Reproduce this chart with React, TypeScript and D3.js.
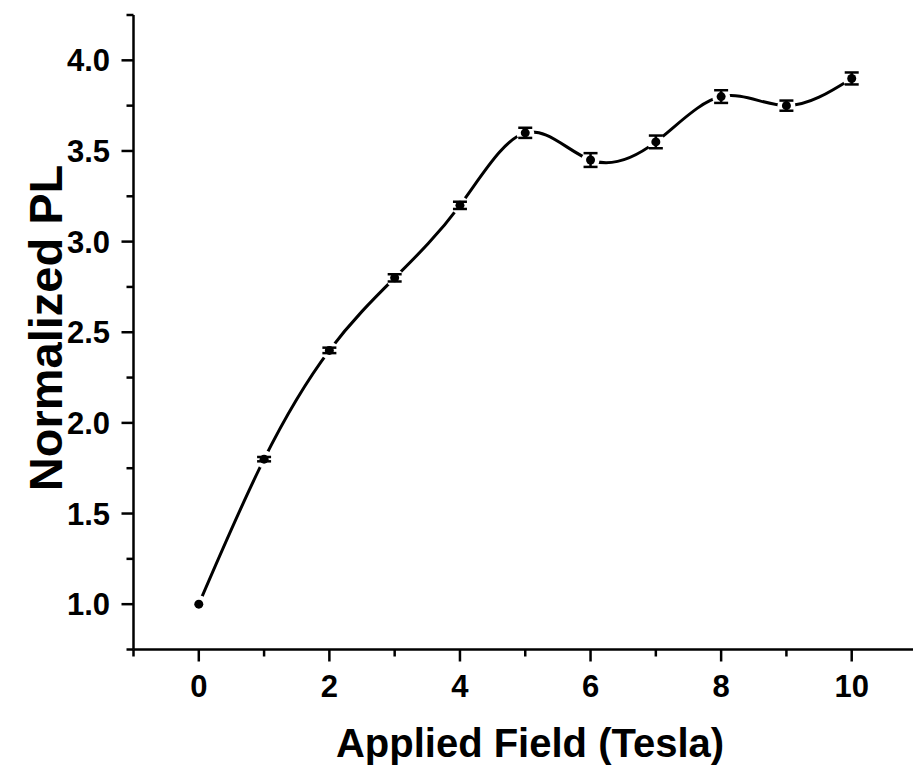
import React from "react";
import * as d3 from "d3";

const fields = [0, 1, 2, 3, 4, 5, 6, 7, 8, 9, 10];
const normPL = [1.0, 1.8, 2.4, 2.8, 3.2, 3.6, 3.45, 3.55, 3.8, 3.75, 3.9];
const errs = [0, 0.012, 0.015, 0.02, 0.02, 0.028, 0.038, 0.035, 0.035, 0.028, 0.033];
const xTicks = [0, 2, 4, 6, 8, 10];
const xMinor = [1, 3, 5, 7, 9];
const yTicks = [1.0, 1.5, 2.0, 2.5, 3.0, 3.5, 4.0];
const yMinor = [1.25, 1.75, 2.25, 2.75, 3.25, 3.75, 4.25];

const W = 913;
const H = 769;
const FONT = "Liberation Sans, Arial, sans-serif";

export default function App() {
  const x = d3.scaleLinear().domain([-1, 11]).range([133.5, 917]);
  const y = d3.scaleLinear().domain([0.75, 4.25]).range([649.5, 15]);
  const data = fields.map((f, i) => ({ f, v: normPL[i], e: errs[i] }));
  const line = d3
    .line<{ f: number; v: number }>()
    .x((d) => x(d.f))
    .y((d) => y(d.v))
    .curve(d3.curveNatural);
  const path = line(data) || "";

  return (
    <>
      <style>{`html,body{margin:0;padding:0;overflow:hidden;}`}</style>
      <svg
        width={W}
        height={H}
        style={{ display: "block", background: "#fff", position: "fixed", left: 0, top: 0 }}
      >
        <defs>
          <mask id="gapmask">
            <rect x={0} y={0} width={W} height={H} fill="#fff" />
            {data.map((d, i) => (
              <circle key={i} cx={x(d.f)} cy={y(d.v)} r={9} fill="#000" />
            ))}
          </mask>
        </defs>
        <path d={path} fill="none" stroke="#000" strokeWidth={3} mask="url(#gapmask)" />
        {data.map((d, i) => (
          <g key={i}>
            {d.e > 0 && (
              <g stroke="#000" strokeWidth={2.5}>
                <line x1={x(d.f)} x2={x(d.f)} y1={y(d.v - d.e)} y2={y(d.v + d.e)} />
                <line x1={x(d.f) - 7} x2={x(d.f) + 7} y1={y(d.v - d.e)} y2={y(d.v - d.e)} />
                <line x1={x(d.f) - 7} x2={x(d.f) + 7} y1={y(d.v + d.e)} y2={y(d.v + d.e)} />
              </g>
            )}
            <circle cx={x(d.f)} cy={y(d.v)} r={4.5} fill="#000" />
          </g>
        ))}
        <g stroke="#000" strokeWidth={2.5} fill="none">
          <line x1={x.range()[0]} x2={W} y1={y(0.75)} y2={y(0.75)} />
          <line x1={x.range()[0]} x2={x.range()[0]} y1={y(0.75)} y2={y(4.25)} />
          {xTicks.map((t) => (
            <line key={"xt" + t} x1={x(t)} x2={x(t)} y1={y(0.75)} y2={y(0.75) + 12} />
          ))}
          {xMinor.concat([-1]).map((t) => (
            <line key={"xm" + t} x1={x(t)} x2={x(t)} y1={y(0.75)} y2={y(0.75) + 7} />
          ))}
          {yTicks.map((t) => (
            <line key={"yt" + t} x1={x(-1) - 12} x2={x(-1)} y1={y(t)} y2={y(t)} />
          ))}
          {yMinor.concat([0.75]).map((t) => (
            <line key={"ym" + t} x1={x(-1) - 7} x2={x(-1)} y1={y(t)} y2={y(t)} />
          ))}
        </g>
        <g fontFamily={FONT} fontWeight="bold" fontSize={31} fill="#000">
          {xTicks.map((t) => (
            <text key={"xl" + t} x={x(t)} y={697} textAnchor="middle">
              {t}
            </text>
          ))}
          {yTicks.map((t) => (
            <text key={"yl" + t} x={110} y={y(t)} dy="0.36em" textAnchor="end">
              {d3.format(".1f")(t)}
            </text>
          ))}
        </g>
        <text
          x={530}
          y={757}
          textAnchor="middle"
          fontFamily={FONT}
          fontWeight="bold"
          fontSize={40}
          fill="#000"
        >
          Applied Field (Tesla)
        </text>
        <text
          transform={`translate(62,328) rotate(-90)`}
          textAnchor="middle"
          fontFamily={FONT}
          fontWeight="bold"
          fontSize={47}
          fill="#000"
        >
          Normalized PL
        </text>
      </svg>
    </>
  );
}
